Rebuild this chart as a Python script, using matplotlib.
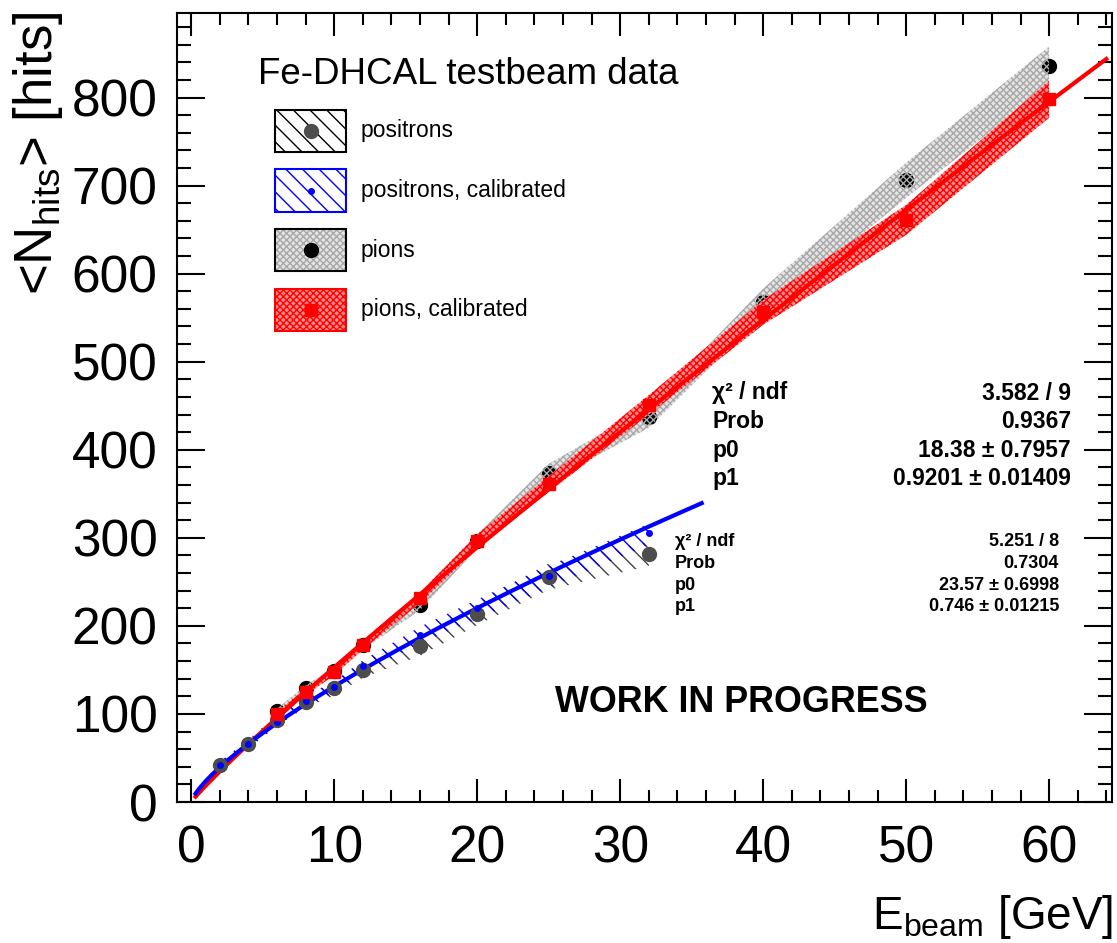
import numpy as np
import matplotlib
matplotlib.use('Agg')
import matplotlib.pyplot as plt
from matplotlib.patches import Rectangle
from matplotlib.lines import Line2D
from matplotlib.ticker import MultipleLocator

# Beam energies [GeV]
E_POS = [2, 4, 6, 8, 10, 12, 16, 20, 25, 32]
E_PI = [6, 8, 10, 12, 16, 20, 25, 32, 40, 50, 60]

# Mean number of hits
positrons = [42, 66, 93, 114, 129, 150, 177, 214, 256, 282]
positrons_cal = [42, 66, 91, 115, 131, 154, 190, 220, 257, 305]
pions = [103, 129, 149, 178, 224, 296, 374, 437, 568, 706, 836]
pions_cal = [100, 125, 148, 178, 232, 296, 361, 451, 556, 661, 798]

# Uncertainty bands
positrons_lo = [38, 61, 87, 107, 121, 141, 166, 201, 241, 268]
positrons_hi = [46, 71, 99, 121, 137, 159, 188, 227, 271, 296]
positrons_cal_lo = [38, 61, 86, 109, 124, 146, 180, 208, 243, 292]
positrons_cal_hi = [46, 70, 95, 120, 137, 161, 199, 230, 268, 316]
pions_err = [3, 3.5, 4, 5, 6, 8, 10, 12, 15, 20, 22]
pions_cal_err = [3, 3.5, 4, 5, 6, 8, 9, 11, 14, 17, 21]

# Power-law fits p0 * E^p1 (parameters from the stat boxes)
FIT_PI = (18.38, 0.9201)
FIT_POS = (23.57, 0.746)

W, H = 1117, 943

plt.rcParams['font.family'] = ['Liberation Sans', 'DejaVu Sans']
plt.rcParams['mathtext.fontset'] = 'custom'
plt.rcParams['mathtext.rm'] = 'Liberation Sans'
plt.rcParams['mathtext.it'] = 'Liberation Sans'
plt.rcParams['hatch.linewidth'] = 1.0


def fx(px):
    return px / W


def fy(py):
    return 1 - py / H


fig = plt.figure(figsize=(W / 100, H / 100), dpi=100)
ax = fig.add_axes([fx(177), fy(802), (1112 - 177) / W, (802 - 13) / H])

# positron bands (hatched)
ax.fill_between(E_POS, positrons_lo, positrons_hi, facecolor='none',
                edgecolor='#444444', hatch='\\\\', linewidth=0, zorder=2)
ax.fill_between(E_POS, positrons_cal_lo, positrons_cal_hi, facecolor='none',
                edgecolor='blue', hatch='\\\\', linewidth=0, zorder=2)

# pion band: light fill, markers, then stipple on top
pi = np.array(pions)
pi_err = np.array(pions_err)
ax.fill_between(E_PI, pi - pi_err, pi + pi_err, facecolor='#e4e4e4',
                linewidth=0, zorder=2)
ax.plot(E_PI, pions, 'o', color='black', ms=10, zorder=3)
ax.fill_between(E_PI, pi - pi_err, pi + pi_err, facecolor='none',
                edgecolor='#a8a8a8', hatch='xxxxx', linewidth=0, zorder=4)

pc = np.array(pions_cal)
pc_err = np.array(pions_cal_err)
ax.fill_between(E_PI, pc - pc_err, pc + pc_err, facecolor='#ff8c8c',
                edgecolor='red', hatch='xxxxx', linewidth=0, zorder=5)

# fits
e = np.linspace(0.3, 64, 300)
ax.plot(e, FIT_PI[0] * e ** FIT_PI[1], color='red', lw=3, zorder=6)
e = np.linspace(0.3, 35.7, 200)
ax.plot(e, FIT_POS[0] * e ** FIT_POS[1], color='blue', lw=3, zorder=6)

# markers
ax.plot(E_POS, positrons, 'o', color='#4d4d4d', ms=10, zorder=7)
ax.plot(E_POS, positrons_cal, 'o', color='blue', ms=4, zorder=8)
ax.plot(E_PI, pions_cal, 's', color='red', ms=9, zorder=8)

ax.set_xlim(-1, 64.4)
ax.set_ylim(0, 896)
ax.xaxis.set_major_locator(MultipleLocator(10))
ax.xaxis.set_minor_locator(MultipleLocator(2))
ax.yaxis.set_major_locator(MultipleLocator(100))
ax.yaxis.set_minor_locator(MultipleLocator(20))
ax.tick_params(which='both', direction='in', top=True, right=True, width=1.5)
ax.tick_params(axis='x', which='major', length=16.5, pad=16, labelsize=37)
ax.tick_params(axis='x', which='minor', length=8.5)
ax.tick_params(axis='y', which='major', length=20, pad=14, labelsize=37)
ax.tick_params(axis='y', which='minor', length=10)
for s in ax.spines.values():
    s.set_linewidth(1.5)

# axis titles
fig.text(fx(1113), fy(941), r'E$_{\mathrm{beam}}$ [GeV]', ha='right', va='bottom', fontsize=33)
fig.text(fx(11), fy(12), r'<N$_{\mathrm{hits}}$> [hits]', ha='left', va='top',
         rotation=90, fontsize=38)

# legend drawn by hand
fig.text(fx(258), fy(75), 'Fe-DHCAL testbeam data', ha='left', va='center', fontsize=26.5)
legend_rows = [
    ('positrons', 'white', 'black', 'black', '\\\\',
     dict(marker='o', color='#4d4d4d', ms=10)),
    ('positrons, calibrated', 'white', 'blue', 'blue', '\\\\',
     dict(marker='o', color='blue', ms=4)),
    ('pions', '#e4e4e4', '#a8a8a8', 'black', 'xxxxx',
     dict(marker='o', color='black', ms=10)),
    ('pions, calibrated', '#ff8c8c', 'red', 'red', 'xxxxx',
     dict(marker='s', color='red', ms=9)),
]
for i, (label, face, hcol, border, hatch, mk) in enumerate(legend_rows):
    top = 110 + i * 59.5
    xy = (fx(275), fy(top + 42))
    fig.patches.append(Rectangle(xy, 71 / W, 42 / H, transform=fig.transFigure,
                                 facecolor=face, edgecolor=hcol, hatch=hatch, linewidth=0))
    fig.patches.append(Rectangle(xy, 71 / W, 42 / H, transform=fig.transFigure,
                                 facecolor='none', edgecolor=border, linewidth=1.5))
    fig.lines.append(Line2D([fx(310.5)], [fy(top + 21)], linestyle='none',
                            transform=fig.transFigure, **mk))
    fig.text(fx(361), fy(top + 21), label, ha='left', va='center', fontsize=16.5)

# fit statistics boxes
big = [('χ² / ndf', '3.582 / 9'), ('Prob', '0.9367'),
       ('p0', '18.38 ± 0.7957'), ('p1', '0.9201 ± 0.01409')]
for i, (k, v) in enumerate(big):
    y = 393 + i * 28.5
    fig.text(fx(712), fy(y), k, ha='left', va='center', fontsize=16.5, weight='bold')
    fig.text(fx(1071), fy(y), v, ha='right', va='center', fontsize=16.5, weight='bold')

small = [('χ² / ndf', '5.251 / 8'), ('Prob', '0.7304'),
         ('p0', '23.57 ± 0.6998'), ('p1', '0.746 ± 0.01215')]
for i, (k, v) in enumerate(small):
    y = 542 + i * 21.5
    fig.text(fx(675), fy(y), k, ha='left', va='center', fontsize=13, weight='bold')
    fig.text(fx(1059), fy(y), v, ha='right', va='center', fontsize=13, weight='bold')

fig.text(fx(555), fy(702), 'WORK IN PROGRESS', ha='left', va='center',
         fontsize=25.8, weight='bold')

fig.savefig('out.png', dpi=100)
